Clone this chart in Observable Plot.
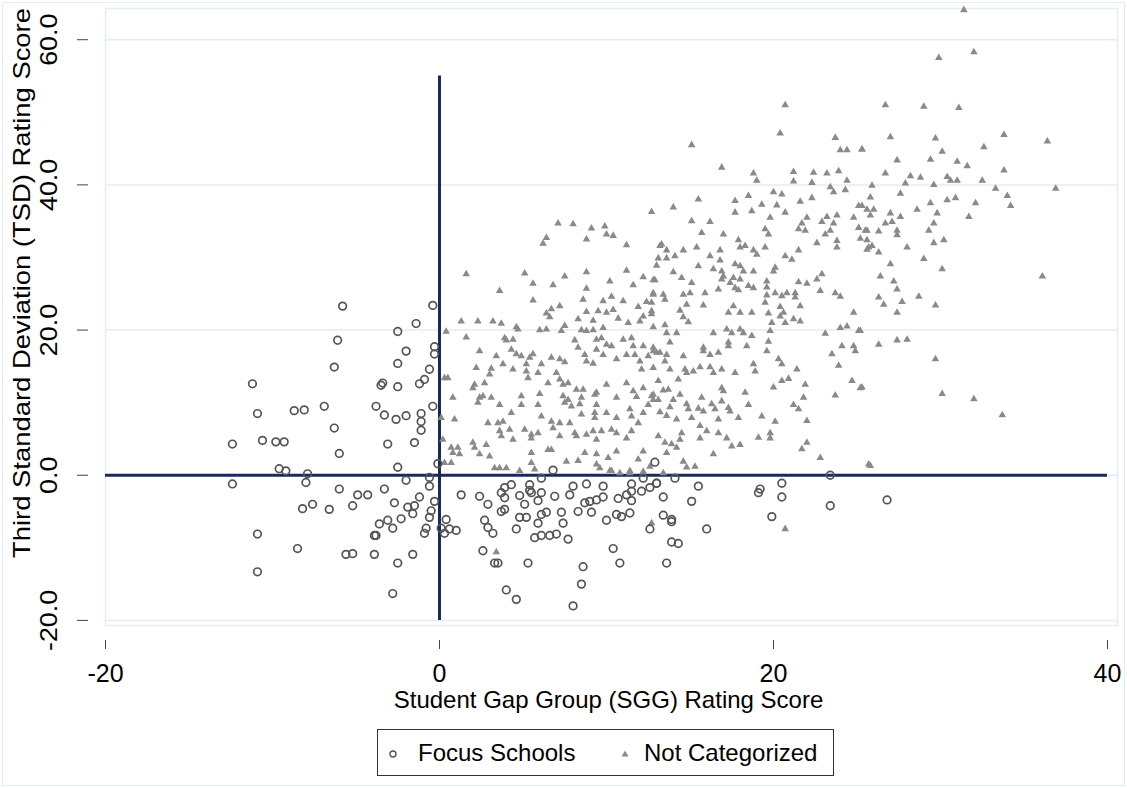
<!DOCTYPE html>
<html>
<head>
<meta charset="utf-8">
<script src="https://cdn.jsdelivr.net/npm/d3@7"></script>
<script src="https://cdn.jsdelivr.net/npm/@observablehq/plot@0.6"></script>
<style>
  html, body { margin: 0; padding: 0; background: #fff; overflow: hidden; }
  body { width: 1127px; height: 788px; position: relative; font-family: "Liberation Sans", Arial, sans-serif; }
  #outer { position: absolute; left: 2px; top: 2px; width: 1121px; height: 782px; border: 1px solid #e6ecee; pointer-events: none; }
  #legend { position: absolute; left: 377px; top: 729px; width: 455px; height: 45px; border: 1.6px solid #333; box-sizing: content-box; }
  #legend .sym { position: absolute; top: 18px; }
  #legend .lab { position: absolute; top: 9px; font-size: 24px; color: #000; line-height: 28px; white-space: nowrap; }
</style>
</head>
<body>
<div id="chart"></div>
<div id="legend">
  <svg class="sym" style="left:9px" width="12" height="12"><circle cx="6" cy="6" r="3" fill="none" stroke="#555" stroke-width="1.4"/></svg>
  <span class="lab" style="left:40px">Focus Schools</span>
  <svg class="sym" style="left:241px" width="12" height="12"><path d="M6,2.5 L9.5,8.5 L2.5,8.5 Z" fill="#8a8a8a"/></svg>
  <span class="lab" style="left:266px">Not Categorized</span>
</div>
<div id="outer"></div>
<script>
// ---- Data ----
const xTicks = [-20, 0, 20, 40];
const yTicks = [-20, 0, 20, 40, 60];
const xTitle = "Student Gap Group (SGG) Rating Score";
const yTitle = "Third Standard Deviation (TSD) Rating Score";
const refLineY = 0;                 // horizontal reference line at TSD = 0
const refLineX = 0;                 // vertical reference line at SGG = 0
const refLineXSpan = [-20, 55];     // vertical extent of the SGG = 0 line
const refLineYSpan = [-20, 40];     // horizontal extent of the TSD = 0 line

// Focus Schools: [SGG, TSD]
const focusSchools = [
[-5.8,23.3],[-0.4,23.4],[-1.4,20.9],[-2.5,19.8],[-6.1,18.6],[-0.3,17.7],[-2.0,17.1],[-0.3,16.7],[-2.5,15.4],[-6.3,14.9],
[-0.6,14.6],[-0.9,13.2],[-1.2,12.6],[-3.4,12.7],[-3.5,12.4],[-11.2,12.6],[-2.5,12.2],[-0.4,9.5],[-3.8,9.5],[-6.9,9.5],
[-10.9,8.5],[-8.7,8.9],[-8.1,9.0],[-3.3,8.3],[-2.6,7.7],[-2.0,8.2],[-1.1,8.5],[-1.1,7.4],[-1.1,6.2],[-6.3,6.5],
[-12.4,4.3],[-10.6,4.8],[-9.8,4.6],[-9.3,4.6],[-3.1,4.3],[-1.5,4.5],[-6.0,3.0],[-2.5,1.1],[-0.1,1.6],[-9.6,0.9],
[-9.2,0.6],[-7.9,0.2],[-0.6,-0.3],[-12.4,-1.2],[-8.0,-1.0],[-2.0,-0.7],[-0.6,-1.5],[-6.0,-1.9],[-3.3,-1.9],[-4.9,-2.7],
[-4.3,-2.7],[-1.2,-3.0],[-0.3,-3.6],[-2.7,-3.8],[-8.2,-4.6],[-7.6,-4.0],[-6.6,-4.7],[-5.2,-4.2],[-1.9,-4.4],[-1.5,-4.2],
[-1.6,-5.3],[-0.5,-4.9],[-2.3,-6.0],[-3.6,-6.7],[-3.1,-6.2],[-2.8,-7.3],[-0.6,-5.8],[-0.8,-7.3],[-0.9,-8.0],[0.4,-6.1],
[0.1,-7.3],[0.3,-8.0],[-3.9,-8.3],[-3.8,-8.3],[-10.9,-8.1],[-8.5,-10.1],[-5.6,-10.9],[-5.2,-10.8],[-3.9,-10.9],[-2.5,-12.1],
[-1.6,-10.9],[-10.9,-13.3],[-2.8,-16.3],
[6.8,0.7],[12.9,1.8],[1.3,-2.7],[2.4,-2.9],[2.9,-4.0],[3.7,-2.4],[3.9,-1.7],[4.3,-1.3],[3.9,-3.1],[4.8,-2.8],
[5.1,-4.0],[5.4,-1.3],[5.4,-2.1],[5.5,-2.4],[5.9,-3.5],[6.1,-2.4],[6.1,-0.4],[6.9,-2.9],[7.8,-2.7],[8.0,-1.5],
[8.8,-1.2],[9.8,-1.5],[9.8,-3.0],[8.7,-3.8],[9.0,-3.6],[9.4,-3.4],[10.7,-3.2],[11.2,-2.7],[11.5,-2.2],[11.5,-1.2],
[11.5,-3.5],[12.1,-2.2],[12.2,-0.4],[12.6,-1.7],[13.0,-1.1],[13.4,-3.0],[0.6,-7.4],[1.0,-7.6],[3.7,-5.0],[3.9,-4.7],
[2.7,-6.2],[2.9,-7.2],[3.2,-8.0],[4.6,-7.4],[4.8,-5.8],[5.2,-5.8],[6.1,-5.4],[6.4,-5.1],[5.9,-6.6],[7.3,-5.1],
[7.4,-6.6],[8.3,-5.0],[9.1,-5.1],[5.7,-8.6],[6.1,-8.3],[6.6,-8.3],[7.0,-8.1],[7.7,-8.8],[10.0,-6.2],[10.6,-5.4],
[10.9,-5.7],[11.4,-5.2],[13.4,-5.5],[12.6,-7.4],[2.6,-10.4],[3.3,-12.1],[3.5,-12.1],[5.3,-12.1],[8.6,-12.6],[10.4,-10.1],
[10.8,-12.1],[13.6,-12.1],[8.5,-15.0],[4.0,-15.8],[4.6,-17.1],[8.0,-18.0],
[14.1,-0.4],[13.0,-1.1],[15.5,-1.5],[15.1,-3.6],[19.2,-1.9],[19.1,-2.4],[20.5,-1.1],[20.5,-3.0],[23.4,0.0],[23.4,-4.2],
[26.8,-3.4],[13.9,-6.1],[13.9,-6.4],[16.0,-7.4],[19.9,-5.7],[13.9,-9.2],[14.3,-9.4]
];

// Not Categorized: [SGG, TSD]
const notCategorized = [
[6.2,31.9],[11.2,31.7],[13.2,31.6],[1.6,27.7],[5.1,27.8],[7.5,27.4],[8.8,28.0],[5.6,26.4],[6.8,26.2],[10.2,26.7],
[11.2,28.2],[12.2,27.3],[12.9,26.9],[3.6,25.4],[8.8,25.7],[11.6,26.2],[10.3,24.6],[11.0,24.0],[5.6,24.1],[8.6,24.2],
[9.8,24.0],[12.4,23.9],[12.8,24.9],[7.2,23.3],[6.7,22.9],[6.4,22.3],[6.6,21.8],[8.8,22.5],[9.5,22.6],[10.0,22.4],
[10.4,22.8],[11.9,23.2],[12.7,22.6],[12.2,21.9],[12.0,21.2],[1.3,21.2],[2.3,21.2],[3.2,21.2],[3.7,20.9],[4.6,20.4],
[4.7,20.1],[6.0,20.0],[6.4,20.1],[7.3,19.9],[7.5,20.6],[8.3,21.5],[9.2,21.3],[9.8,20.3],[10.7,21.6],[11.3,21.0],
[0.4,19.8],[1.6,19.0],[3.9,18.9],[4.0,18.6],[4.4,18.7],[8.1,18.6],[8.5,20.0],[8.8,19.9],[9.2,20.0],[9.4,18.7],
[9.7,18.9],[10.0,18.0],[10.3,17.8],[11.0,18.7],[11.5,18.9],[11.6,17.8],[12.2,17.8],[12.8,17.6],[8.3,17.6],[9.4,17.3],
[2.4,17.1],[3.4,16.4],[4.3,17.3],[4.6,16.7],[4.9,16.4],[5.6,16.7],[5.4,16.2],[6.7,16.2],[7.2,16.0],[7.5,15.6],
[8.7,16.6],[8.8,15.7],[9.2,15.4],[9.8,16.6],[10.6,16.0],[11.2,16.6],[11.7,16.6],[12.0,15.7],[12.5,16.4],[13.0,16.9],
[0.3,13.4],[0.5,13.4],[2.2,14.8],[3.1,14.7],[3.0,13.9],[3.8,15.3],[5.2,15.3],[6.1,15.3],[4.4,14.6],[5.2,14.3],
[5.9,14.1],[7.0,14.1],[7.2,13.2],[7.4,12.5],[7.7,12.7],[8.2,11.8],[8.6,11.8],[9.4,11.4],[10.0,12.5],[11.2,12.7],
[11.6,11.6],[12.2,12.0],[12.8,11.1],[12.1,14.6],[5.3,13.4],[2.7,12.7],[2.1,12.5],[2.0,12.0],[6.5,12.7],[0.8,10.7],
[2.4,10.7],[2.6,10.9],[3.1,10.7],[2.3,10.0],[3.6,9.7],[4.9,10.9],[4.9,9.7],[5.9,9.7],[6.0,11.2],[7.4,10.9],
[7.5,10.0],[7.7,10.4],[8.4,9.8],[8.5,10.7],[9.3,11.1],[9.4,9.7],[10.6,10.7],[11.8,10.8],[12.5,9.7],[12.7,10.9],
[13.1,10.4],[4.3,8.6],[6.1,8.1],[7.9,9.5],[8.5,8.4],[9.3,8.6],[9.3,7.9],[10.0,8.6],[10.6,7.9],[11.4,9.1],
[11.5,8.1],[12.2,8.6],[0.1,7.9],[0.9,7.7],[2.9,7.2],[3.5,7.2],[3.8,7.4],[3.6,6.1],[4.2,6.3],[5.1,6.3],
[5.5,5.6],[5.9,5.8],[6.7,7.4],[6.8,6.5],[7.2,7.2],[7.8,7.2],[8.1,5.8],[8.8,5.6],[9.2,6.1],[9.7,6.1],
[10.3,6.3],[10.6,5.8],[11.5,6.1],[11.9,7.2],[3.7,5.4],[4.4,4.9],[5.5,5.1],[7.2,5.4],[8.2,5.4],[9.4,4.9],
[11.2,5.1],[0.2,4.9],[0.7,3.8],[0.8,3.1],[1.1,3.8],[1.2,2.9],[2.0,4.5],[2.1,3.8],[2.8,4.2],[2.4,2.9],
[3.0,2.6],[5.5,3.1],[6.5,3.5],[6.7,3.5],[7.6,1.9],[8.3,2.0],[8.7,3.1],[9.4,2.9],[10.1,2.4],[9.4,1.5],
[10.6,3.3],[11.9,2.2],[12.2,3.3],[0.3,1.7],[0.7,1.7],[3.3,1.0],[3.6,1.0],[4.0,1.0],[4.8,0.6],[5.5,1.7],
[5.7,0.8],[9.6,1.0],[10.2,0.6],[11.4,0.6],[10.8,0.3],
[12.7,36.3],[7.1,34.7],[8.0,34.6],[9.1,34.0],[9.9,34.3],[10.0,33.2],[10.4,33.0],[6.4,32.7],[8.8,32.5],
[20.7,51.0],[20.4,47.1],[15.1,45.5],[23.7,46.5],[24.0,44.8],[24.4,44.8],[25.3,44.9],
[16.9,42.4],[18.8,41.6],[19.0,40.6],[21.2,41.8],[21.2,40.5],[22.4,41.7],[22.3,40.3],[23.2,41.6],[23.9,41.9],[24.4,40.6],
[23.4,39.7],[23.6,39.0],[24.3,39.3],[15.5,38.0],[17.7,37.8],[18.5,38.5],[20.0,39.0],[20.5,38.7],[21.6,37.7],[22.3,38.2],
[14.0,36.9],[17.7,36.2],[18.7,36.4],[19.3,37.3],[20.2,37.2],[20.7,36.2],[19.8,35.5],[22.0,35.5],[21.7,34.7],[21.5,33.9],
[21.9,33.7],[22.9,34.9],[23.2,35.6],[23.8,35.8],[23.6,34.7],[23.4,33.7],[23.1,33.2],[24.8,35.5],[25.1,34.1],[25.1,37.1],
[25.6,33.7],[15.1,35.0],[16.2,34.9],[15.7,33.4],[17.0,33.2],[19.5,33.9],[19.7,33.2],[17.9,32.4],[18.0,31.4],[18.3,31.6],
[19.5,31.4],[18.8,31.0],[19.0,30.4],[21.5,31.0],[22.6,32.0],[23.8,32.3],[23.8,31.4],[25.2,32.6],[25.7,31.4],[13.3,31.8],
[13.6,31.0],[14.6,31.0],[15.4,31.4],[13.1,29.9],[13.6,29.9],[14.1,30.2],[16.2,30.2],[16.8,31.0],[16.8,29.6],[20.7,30.2],
[21.1,29.7],[13.0,28.9],[15.5,28.8],[14.0,28.0],[16.4,28.4],[16.9,28.1],[17.7,29.1],[18.0,28.8],[18.2,28.1],[18.8,28.1],
[20.1,28.6],[20.0,28.1],[12.8,26.9],[14.5,27.2],[15.1,26.5],[17.0,27.4],[16.9,27.0],[17.6,27.2],[17.4,26.5],[18.0,27.0],
[18.5,26.1],[18.8,25.8],[19.6,26.7],[19.6,25.9],[21.5,26.6],[22.0,26.4],[22.6,27.0],[22.9,27.7],[12.8,25.1],[13.4,24.9],
[13.5,24.2],[14.6,24.9],[15.0,25.1],[15.9,25.1],[16.7,25.6],[17.7,25.8],[17.9,25.5],[19.6,24.8],[20.1,25.1],[20.5,24.7],
[20.8,25.1],[21.3,25.1],[21.3,24.5],[22.8,25.4],[23.7,25.1],[24.0,24.6],[12.7,23.8],[14.8,23.5],[15.8,23.4],[17.6,23.3],
[17.3,22.4],[18.0,22.4],[18.7,22.4],[19.5,23.8],[19.7,22.3],[19.9,21.0],[20.4,23.2],[20.6,22.4],[20.4,21.9],[21.6,23.3],
[21.2,21.5],[21.6,21.2],[20.7,21.0],[24.8,22.4],[14.4,22.7],[14.6,21.8],[14.9,21.1],[12.7,22.2],[12.8,20.4],[13.5,20.7],
[14.2,19.6],[13.6,19.6],[16.4,19.6],[17.2,20.1],[17.5,19.6],[18.0,20.1],[18.2,19.6],[18.7,19.2],[19.7,18.4],[19.8,19.9],
[23.1,19.5],[24.0,20.3],[24.4,20.5],[25.1,19.9],[13.8,18.3],[12.8,17.1],[13.2,16.9],[13.6,16.6],[13.5,15.7],[15.8,17.6],
[15.8,17.1],[16.2,16.6],[16.7,16.9],[17.3,18.3],[17.3,17.8],[18.4,17.8],[19.6,17.1],[23.5,16.7],[24.1,17.8],[24.8,17.8],
[24.9,17.1],[14.6,16.4],[12.8,14.8],[13.8,14.6],[14.7,14.6],[14.8,14.1],[15.2,14.3],[15.6,14.9],[16.2,14.9],[16.4,14.1],
[16.9,14.6],[17.7,14.1],[18.8,15.3],[18.9,14.3],[20.3,16.0],[20.5,15.3],[21.4,14.6],[23.9,15.1],[14.3,13.2],[13.1,13.0],
[16.9,12.0],[17.0,11.6],[18.3,11.4],[20.0,12.1],[20.5,13.0],[20.9,13.3],[21.9,12.5],[23.7,11.0],[24.7,13.0],[25.2,12.0],
[13.4,11.7],[13.7,11.8],[14.4,11.1],[12.8,10.4],[14.0,10.4],[15.7,10.7],[16.3,9.8],[16.9,10.2],[17.3,9.3],[17.4,8.8],
[18.5,9.7],[13.2,8.7],[13.8,9.4],[14.8,9.8],[14.9,9.1],[15.5,9.2],[15.8,8.8],[16.5,9.1],[16.7,7.7],[17.9,7.9],
[19.3,8.1],[20.1,7.4],[21.2,9.7],[21.8,10.7],[21.5,9.1],[22.0,7.5],[13.6,8.2],[14.2,7.7],[15.1,7.9],[15.6,6.8],
[16.0,6.1],[16.7,5.8],[17.2,5.1],[13.1,5.4],[13.5,4.5],[13.9,4.3],[14.5,5.8],[14.4,4.9],[15.6,5.1],[14.2,3.8],
[13.6,3.1],[17.5,4.0],[18.0,4.2],[19.1,5.2],[19.8,5.8],[19.8,5.1],[22.0,4.5],[21.7,3.6],[22.8,2.4],[16.4,2.9],
[14.6,1.9],[14.8,1.1],[15.3,1.2],[25.7,1.5],
[31.4,64.1],[32.0,58.3],[29.9,57.5],[26.7,51.0],[29.0,50.8],[31.1,50.6],[27.0,46.6],[29.7,46.4],[33.8,46.9],[36.4,46.0],
[25.3,44.9],[30.1,44.6],[32.6,45.2],[27.4,43.4],[29.4,43.5],[31.0,43.2],[31.6,42.6],[26.7,41.6],[28.2,41.2],[28.8,41.0],
[30.4,41.1],[30.6,40.6],[31.0,40.6],[33.8,42.0],[32.5,40.6],[27.9,40.2],[29.6,40.0],[25.9,39.9],[27.6,38.8],[33.3,39.5],
[34.0,38.5],[36.9,39.5],[34.2,37.1],[25.8,38.3],[25.3,37.1],[25.6,36.6],[26.0,36.6],[25.8,35.8],[27.0,36.1],[27.6,35.6],
[28.6,36.6],[29.4,37.5],[29.8,36.1],[30.4,37.9],[30.9,38.2],[32.1,37.5],[31.7,35.6],[26.7,34.7],[27.1,34.9],[27.4,33.7],
[27.4,33.1],[29.6,34.7],[29.3,33.7],[29.6,32.0],[30.2,32.4],[25.5,33.7],[26.3,33.6],[25.6,32.4],[25.6,31.1],[25.9,31.6],
[26.3,30.7],[28.0,31.4],[27.0,29.1],[29.0,29.8],[30.1,28.4],[26.4,27.4],[27.2,26.7],[27.4,25.6],[26.3,24.5],[26.6,23.5],
[27.7,23.9],[28.7,24.6],[29.7,23.4],[27.4,22.4],[36.1,27.4],[25.2,19.9],[26.3,18.0],[27.4,18.6],[28.0,18.7],[29.7,16.0],
[25.3,12.1],[30.1,11.2],[32.0,10.5],[33.7,8.3],[25.8,1.3],
[10.3,0.6],[11.4,0.3],[12.2,0.5],[13.4,0.3],[12.6,1.2],[3.4,-10.6],[20.7,-7.4],[12.7,-6.6]
];

// ---- Chart ----
const gridColor = "#e4edf0";
const navy = "#1b2a55";
const yTickLabels = yTicks.map(d => d.toFixed(1));

const chart = Plot.plot({
  width: 1127,
  height: 720,
  marginLeft: 105,
  marginRight: 10,
  marginTop: 8,
  marginBottom: 95,
  x: { domain: [-20, 40.6], label: null },
  y: { domain: [-20.7, 64.3], label: null },
  style: { fontFamily: "'Liberation Sans', Arial, sans-serif", background: "white", color: "#000" },
  marks: [
    Plot.frame({ stroke: gridColor, strokeWidth: 1.5 }),
    Plot.gridY(yTicks, { stroke: gridColor, strokeOpacity: 1, strokeWidth: 1.5 }),
    // y ticks and labels
    Plot.axisY(yTicks, { tickSize: 11, dx: -17, tickFormat: () => "", stroke: "#444", label: null }),
    Plot.text(yTicks, { y: d => d, text: d => d.toFixed(1), frameAnchor: "left", dx: -56, rotate: -90,
      fontSize: 24, textAnchor: "middle", lineAnchor: "middle", fill: "#000" }),
    // x ticks and labels
    Plot.axisX(xTicks, { tickSize: 9, dy: 15, tickFormat: () => "", stroke: "#444", label: null }),
    Plot.text(xTicks, { x: d => d, text: d => String(d), frameAnchor: "bottom", dy: 48,
      fontSize: 25, lineAnchor: "middle", fill: "#000" }),
    // axis titles
    Plot.text([xTitle], { frameAnchor: "bottom", dy: 75, dx: -3, fontSize: 24, lineAnchor: "middle", fill: "#000" }),
    Plot.text([yTitle], { frameAnchor: "left", dx: -83, dy: -34, rotate: -90, fontSize: 24,
      textAnchor: "middle", lineAnchor: "middle", fill: "#000" }),
    // reference lines
    Plot.ruleY([refLineY], { x1: refLineYSpan[0], x2: refLineYSpan[1], stroke: navy, strokeWidth: 3 }),
    Plot.ruleX([refLineX], { y1: refLineXSpan[0], y2: refLineXSpan[1], stroke: navy, strokeWidth: 3 }),
    // data
    Plot.dot(notCategorized, { x: d => d[0], y: d => d[1], symbol: "triangle", r: 2.8, fill: "#8a8a8a", stroke: "none" }),
    Plot.dot(focusSchools, { x: d => d[0], y: d => d[1], symbol: "circle", r: 3.8, fill: "none", stroke: "#555", strokeWidth: 1.7 })
  ]
});
document.getElementById("chart").appendChild(chart);

// The reference's vertical-axis texts are drawn slightly elongated along their direction.
chart.querySelectorAll("text").forEach(t => {
  const s = t.textContent;
  if (s === yTitle) {
    t.setAttribute("textLength", 550);
    t.setAttribute("lengthAdjust", "spacingAndGlyphs");
  } else if (yTickLabels.includes(s)) {
    const len = t.getComputedTextLength();
    t.setAttribute("textLength", (len * 1.12).toFixed(1));
    t.setAttribute("lengthAdjust", "spacingAndGlyphs");
  }
});
</script>
</body>
</html>
